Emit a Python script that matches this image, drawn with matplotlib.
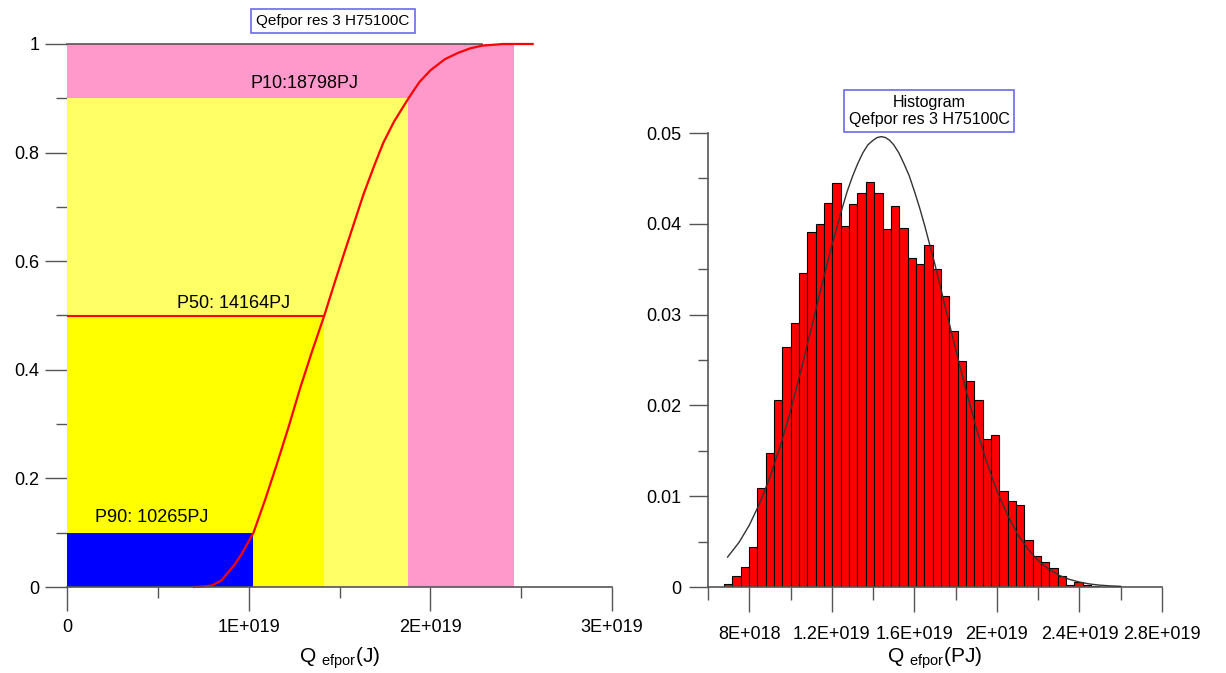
import matplotlib
matplotlib.use("Agg")
import matplotlib.pyplot as plt
from matplotlib.patches import Rectangle
from matplotlib.ticker import MultipleLocator, FixedLocator, FixedFormatter

plt.rcParams['font.family'] = ['Liberation Sans', 'DejaVu Sans']
plt.rcParams['mathtext.fontset'] = 'custom'
plt.rcParams['mathtext.rm'] = 'Liberation Sans'

# ---------------- data ----------------
# Left: cumulative distribution
p90 = 1.0265e19
p50 = 1.4164e19
p10 = 1.8798e19
pmax = 2.46e19
p_labels = ["P90: 10265PJ", "P50: 14164PJ", "P10:18798PJ"]
p_label_x = [0.466e19, 0.916e19, 1.305e19]
p_label_y = [0.128, 0.523, 0.928]

cdf_x = [0.70e19, 0.75e19, 0.80e19, 0.85e19, 0.89e19, 0.92e19, 0.96e19, 1.0265e19,
         1.09e19, 1.154e19, 1.22e19, 1.285e19, 1.35e19, 1.4164e19, 1.47e19, 1.524e19,
         1.58e19, 1.632e19, 1.69e19, 1.741e19, 1.80e19, 1.8798e19, 1.94e19, 2.002e19,
         2.08e19, 2.155e19, 2.22e19, 2.286e19, 2.40e19, 2.563e19]
cdf_y = [0.0, 0.001, 0.003, 0.012, 0.028, 0.040, 0.060, 0.100,
         0.160, 0.225, 0.295, 0.368, 0.435, 0.500, 0.557, 0.613,
         0.670, 0.723, 0.775, 0.818, 0.857, 0.900, 0.930, 0.952,
         0.972, 0.984, 0.992, 0.997, 1.000, 1.000]

left_xticks = [0, 1e19, 2e19, 3e19]
left_xticklabels = ["0", "1E+019", "2E+019", "3E+019"]
left_yticks = [0, 0.2, 0.4, 0.6, 0.8, 1.0]
left_yticklabels = ["0", "0.2", "0.4", "0.6", "0.8", "1"]

# Right: histogram (relative frequency)
bin_start = 6.78e18
bin_width = 0.404e18
hist_vals = [0.0003, 0.0012, 0.0022, 0.0044, 0.0109, 0.0148, 0.0206, 0.0264, 0.0291,
             0.0346, 0.0391, 0.0400, 0.0423, 0.0445, 0.0398, 0.0422, 0.0434, 0.0446,
             0.0434, 0.0394, 0.0420, 0.0395, 0.0362, 0.0356, 0.0377, 0.0350, 0.0320,
             0.0282, 0.0249, 0.0227, 0.0206, 0.0163, 0.0167, 0.0106, 0.0095, 0.0090,
             0.0052, 0.0034, 0.0027, 0.0021, 0.0012, 0.0002, 0.0005, 0.0002, 0.0001,
             0.00005]

fit_x = [6.95e18, 7.5e18, 8.0e18, 8.5e18, 9.0e18, 9.5e18, 10.0e18, 10.5e18, 11.0e18,
         11.5e18, 12.0e18, 12.5e18, 12.75e18, 13.0e18, 13.25e18, 13.5e18, 13.75e18,
         14.0e18, 14.2e18, 14.4e18, 14.6e18, 14.8e18, 15.0e18, 15.25e18,
         15.5e18, 15.75e18, 16.0e18, 16.25e18, 16.5e18, 17.0e18, 17.5e18, 18.0e18,
         18.5e18, 19.0e18, 19.5e18, 20.0e18, 20.5e18, 21.0e18, 21.5e18, 22.0e18,
         22.5e18, 23.0e18, 23.5e18, 24.0e18, 24.5e18, 25.0e18, 25.5e18, 26.0e18]
fit_y = [0.0033, 0.0049, 0.0068, 0.0092, 0.0121, 0.0155, 0.0194, 0.0238, 0.0284,
         0.0331, 0.0376, 0.0417, 0.0436, 0.0452, 0.0466, 0.0478, 0.0487,
         0.0492, 0.0495, 0.0496, 0.0495, 0.0492, 0.0487, 0.0478,
         0.0466, 0.0453, 0.0436, 0.0418, 0.0398, 0.0355, 0.0308, 0.0262,
         0.0217, 0.0175, 0.0138, 0.0106, 0.0080, 0.0058, 0.0042, 0.0029,
         0.0020, 0.0013, 0.00085, 0.00054, 0.00033, 0.00020, 0.00012, 0.00007]

right_xticks = [8e18, 1.2e19, 1.6e19, 2.0e19, 2.4e19, 2.8e19]
right_xticklabels = ["8E+018", "1.2E+019", "1.6E+019", "2E+019", "2.4E+019", "2.8E+019"]
right_yticks = [0, 0.01, 0.02, 0.03, 0.04, 0.05]
right_yticklabels = ["0", "0.01", "0.02", "0.03", "0.04", "0.05"]

# ---------------- figure ----------------
W, H = 1226, 673
fig = plt.figure(figsize=(W / 100, H / 100), dpi=100)
axc = "#555555"

# ----- left chart -----
ax1 = fig.add_axes([67 / W, 1 - 587 / H, 545 / W, 543 / H])
ax1.set_xlim(0, 3e19)
ax1.set_ylim(0, 1)
ax1.add_patch(Rectangle((0, 0), pmax, 1.0, facecolor="#ff99cc", edgecolor="none", zorder=1))
ax1.add_patch(Rectangle((0, 0), p10, 0.9, facecolor="#ffff66", edgecolor="none", zorder=2))
ax1.add_patch(Rectangle((0, 0), p50, 0.5, facecolor="#ffff00", edgecolor="none", zorder=3))
ax1.add_patch(Rectangle((0, 0), p90, 0.1, facecolor="#0000ff", edgecolor="none", zorder=4))
ax1.plot([0, 2.284e19], [1.0, 1.0], color="#555555", lw=1.2, zorder=5, clip_on=False)
ax1.plot([0, p50], [0.5, 0.5], color="#ff0000", lw=1.5, zorder=6)
ax1.plot(cdf_x, cdf_y, color="#ff0000", lw=1.6, zorder=7, clip_on=False)
for t, x, y in zip(p_labels, p_label_x, p_label_y):
    ax1.text(x, y, t, fontsize=13, ha="center", va="center", zorder=8)

for s in ["top", "right", "left"]:
    ax1.spines[s].set_visible(False)
ax1.spines["bottom"].set_color(axc)
ax1.spines["bottom"].set_linewidth(1.2)
ax1.spines["bottom"].set_zorder(9)
ax1.xaxis.set_major_locator(FixedLocator(left_xticks))
ax1.xaxis.set_major_formatter(FixedFormatter(left_xticklabels))
ax1.xaxis.set_minor_locator(MultipleLocator(0.5e19))
ax1.yaxis.set_major_locator(FixedLocator(left_yticks))
ax1.yaxis.set_major_formatter(FixedFormatter(left_yticklabels))
ax1.yaxis.set_minor_locator(MultipleLocator(0.1))
ax1.tick_params(axis="x", which="major", direction="out", length=17, width=1, color=axc,
                labelsize=13, pad=6)
ax1.tick_params(axis="x", which="minor", direction="out", length=8, width=1, color=axc)
ax1.tick_params(axis="y", which="major", direction="out", length=16, width=1, color=axc,
                labelsize=13, pad=4)
ax1.tick_params(axis="y", which="minor", direction="out", length=8, width=1, color=axc)
ax1.set_xlabel(r"Q $_{\mathregular{efpor}}$(J)", fontsize=15, labelpad=7)

fig.text(333 / W, 1 - 21 / H, "Qefpor res 3 H75100C", fontsize=11, ha="center", va="center",
         bbox=dict(boxstyle="square,pad=0.35", facecolor="white", edgecolor="#6b6bea", lw=1.2))

# ----- right chart -----
ax2 = fig.add_axes([708 / W, 1 - 587 / H, 454 / W, 454 / H])
ax2.set_xlim(6e18, 2.8e19)
ax2.set_ylim(0, 0.05)
lefts = [bin_start + i * bin_width for i in range(len(hist_vals))]
ax2.bar(lefts, hist_vals, width=bin_width, align="edge", color="#ff0000",
        edgecolor="black", linewidth=0.8, zorder=2)
ax2.plot(fit_x, fit_y, color="#333333", lw=1.0, zorder=3, clip_on=False)

for s in ["top", "right"]:
    ax2.spines[s].set_visible(False)
for s in ["left", "bottom"]:
    ax2.spines[s].set_color(axc)
    ax2.spines[s].set_linewidth(1.2)
ax2.xaxis.set_major_locator(FixedLocator(right_xticks))
ax2.xaxis.set_major_formatter(FixedFormatter(right_xticklabels))
ax2.xaxis.set_minor_locator(MultipleLocator(2e18))
ax2.yaxis.set_major_locator(FixedLocator(right_yticks))
ax2.yaxis.set_major_formatter(FixedFormatter(right_yticklabels))
ax2.yaxis.set_minor_locator(MultipleLocator(0.005))
ax2.tick_params(axis="x", which="major", direction="out", length=18, width=1, color=axc,
                labelsize=13, pad=10)
ax2.tick_params(axis="x", which="minor", direction="out", length=9, width=1, color=axc)
ax2.tick_params(axis="y", which="major", direction="out", length=14, width=1, color=axc,
                labelsize=13, pad=5)
ax2.tick_params(axis="y", which="minor", direction="out", length=7, width=1, color=axc)
ax2.set_xlabel(r"Q $_{\mathregular{efpor}}$(PJ)", fontsize=15, labelpad=2)

fig.text(929 / W, 1 - 111 / H, "Histogram\nQefpor res 3 H75100C", fontsize=11.5,
         ha="center", va="center", linespacing=1.15,
         bbox=dict(boxstyle="square,pad=0.3", facecolor="white", edgecolor="#6b6bea", lw=1.2))

fig.savefig("out.png", dpi=100)
